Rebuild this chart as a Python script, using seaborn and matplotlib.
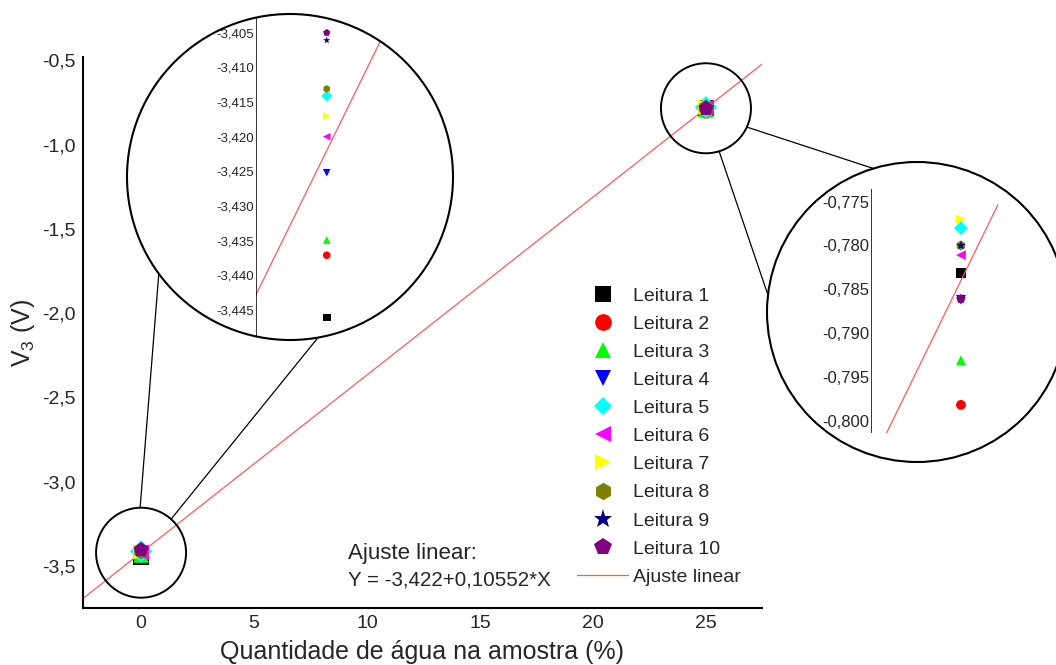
# -*- coding: utf-8 -*-
"""
V3 x quantidade de agua - leituras com ajuste linear e zoom
"""

import numpy as np
import pandas as pd
import seaborn as sns
import matplotlib.pyplot as plt
from matplotlib.patches import Ellipse
from matplotlib.lines import Line2D
from matplotlib.ticker import FuncFormatter, MultipleLocator

W, H = 1056, 665

# dados
leituras = ['Leitura %d' % i for i in range(1, 11)]
agua = [0, 25]
v3_agua0 = [-3.4461, -3.4371, -3.4349, -3.4252, -3.4141,
            -3.4200, -3.4170, -3.4131, -3.4061, -3.4050]
v3_agua25 = [-0.7831, -0.7982, -0.7931, -0.7862, -0.7780,
             -0.7811, -0.7770, -0.7800, -0.7800, -0.7861]
fit_a = -3.422
fit_b = 0.10552

cores = ['black', 'red', '#00ff00', 'blue', 'cyan', 'magenta',
         'yellow', '#808000', '#000080', '#800080']
marcadores = ['s', 'o', '^', 'v', 'D', '<', '>', 'h', '*', 'p']

df = pd.DataFrame({'leitura': leituras * 2,
                   'x': [agua[0]] * 10 + [agua[1]] * 10,
                   'v3': v3_agua0 + v3_agua25})
pal = dict(zip(leituras, cores))
mk = dict(zip(leituras, marcadores))

sns.set_style('white')
plt.rcParams['font.family'] = ['Liberation Sans', 'DejaVu Sans']
plt.rcParams['mathtext.fontset'] = 'custom'
plt.rcParams['mathtext.rm'] = 'Liberation Sans'
plt.rcParams['mathtext.it'] = 'Liberation Sans:italic'
plt.rcParams['axes.unicode_minus'] = False

cor_fit = '#ff5a5a'


def frac(x, y):
    # pixel da imagem (y para baixo) -> fracao da figura
    return x / W, 1 - y / H


def virgula(dec):
    return FuncFormatter(lambda v, p: ('%.*f' % (dec, v)).replace('.', ','))


fig = plt.figure(figsize=(W / 100, H / 100), dpi=100)
ax = fig.add_axes([83 / W, 1 - 608 / H, (762 - 83) / W, (608 - 57) / H])

xlim = (-2.57, 27.48)
x_fit = np.linspace(xlim[0], xlim[1], 50)
sns.lineplot(x=x_fit, y=fit_a + fit_b * x_fit, ax=ax, color=cor_fit, linewidth=0.9)
sns.scatterplot(data=df, x='x', y='v3', hue='leitura', style='leitura',
                palette=pal, markers=mk, s=130, linewidth=0, ax=ax, zorder=3)

leg = ax.get_legend()
handles = list(leg.legend_handles)
labels = [t.get_text() for t in leg.get_texts()]
leg.remove()
tam = {'D': 9.5, '*': 14, 'h': 12.5, 'p': 13}
for h, m in zip(handles, marcadores):
    h.set_markersize(tam.get(m, 12))
    h.set_markeredgewidth(0)
handles.append(Line2D([], [], color=cor_fit, linewidth=0.9))
labels.append('Ajuste linear')
ax.legend(handles, labels, loc='upper left', bbox_to_anchor=frac(577, 287),
          bbox_transform=fig.transFigure, frameon=False, fontsize=14,
          borderpad=0, borderaxespad=0, labelspacing=0.54, handlelength=2.63,
          handletextpad=0.26)

ax.set_xlim(xlim)
ax.set_ylim(-3.75, -0.48)
ax.xaxis.set_major_locator(MultipleLocator(5))
ax.yaxis.set_major_locator(MultipleLocator(0.5))
ax.xaxis.set_major_formatter(virgula(0))
ax.yaxis.set_major_formatter(virgula(1))
ax.tick_params(labelsize=14, length=2, width=1, pad=3)
ax.set_xlabel('Quantidade de água na amostra (%)', fontsize=18, labelpad=6)
ax.set_ylabel('V$_3$ (V)', fontsize=18, labelpad=4)
sns.despine(ax=ax)
for s in ['left', 'bottom']:
    ax.spines[s].set_linewidth(1.5)
    ax.spines[s].set_color('black')

fig.text(*frac(348, 553), 'Ajuste linear:', fontsize=16, va='center')
fig.text(*frac(348, 580), ('Y = %.3f+%.5f*X' % (fit_a, fit_b)).replace('.', ','),
         fontsize=14.8, va='center')


def circulo(cx, cy, r, **kw):
    return Ellipse(frac(cx, cy), 2 * r / W, 2 * r / H, transform=fig.transFigure, **kw)


def inset(box, circ, xl, yl, xline, yticks, s, fs):
    left, right, top, bottom = box
    a = fig.add_axes([left / W, 1 - bottom / H, (right - left) / W, (bottom - top) / H])
    clip = circulo(*circ)
    xl_line = np.linspace(xline[0], xline[1], 20)
    sns.lineplot(x=xl_line, y=fit_a + fit_b * xl_line, ax=a, color=cor_fit, linewidth=0.9)
    sns.scatterplot(data=df, x='x', y='v3', hue='leitura', style='leitura',
                    palette=pal, markers=mk, s=s, linewidth=0, ax=a, legend=False)
    a.set_xlim(xl)
    a.set_ylim(yl)
    a.set_yticks(yticks)
    a.yaxis.set_major_formatter(virgula(3))
    a.set_xticks([])
    a.set_xlabel('')
    a.set_ylabel('')
    a.tick_params(axis='y', length=0, pad=1, labelsize=fs)
    for sp in ['top', 'right', 'bottom']:
        a.spines[sp].set_visible(False)
    a.spines['left'].set_linewidth(1.1)
    a.spines['left'].set_color('black')
    a.spines['left'].set_clip_path(clip)
    a.patch.set_visible(False)
    for art in a.lines + a.collections:
        art.set_clip_path(clip)
    fig.add_artist(circulo(*circ, fill=False, edgecolor='black', linewidth=1.5, zorder=6))
    return a


inset((255.7, 453, 14, 340), (290, 177, 163), (-0.198, 0.352), (-3.44933, -3.4023),
      (-0.198, 0.352), np.arange(-3.445, -3.4049, 0.005), 30, 9.5)
inset((870.7, 1056, 189, 433), (917, 312, 150), (24.7997, 25.211), (-0.80141, -0.77355),
      (24.7997, 25.082), np.arange(-0.800, -0.7749, 0.005), 50, 12)

# circulos pequenos em volta dos pontos e linhas de ligacao
fig.canvas.draw()
grandes = [(290, 177, 163), (917, 312, 150)]
angulos = [[(91.2, -143.6), (48.2, -80.1)], [(-24.7, 106.9), (-73.0, 173.5)]]
for xv, vals, big, angs in zip(agua, [v3_agua0, v3_agua25], grandes, angulos):
    dx, dy = ax.transData.transform((xv, np.mean(vals)))
    cx, cy = dx, H - dy
    r = 45
    fig.add_artist(circulo(cx, cy, r, fill=False, edgecolor='black', linewidth=1.4, zorder=6))
    bx, by, br = big
    for a1, a2 in angs:
        p1 = (cx + r * np.cos(np.radians(a1)), cy - r * np.sin(np.radians(a1)))
        p2 = (bx + br * np.cos(np.radians(a2)), by - br * np.sin(np.radians(a2)))
        f1, f2 = frac(*p1), frac(*p2)
        fig.add_artist(Line2D([f1[0], f2[0]], [f1[1], f2[1]], transform=fig.transFigure,
                              color='black', linewidth=0.9, zorder=6))

fig.savefig('out.png', dpi=100)
